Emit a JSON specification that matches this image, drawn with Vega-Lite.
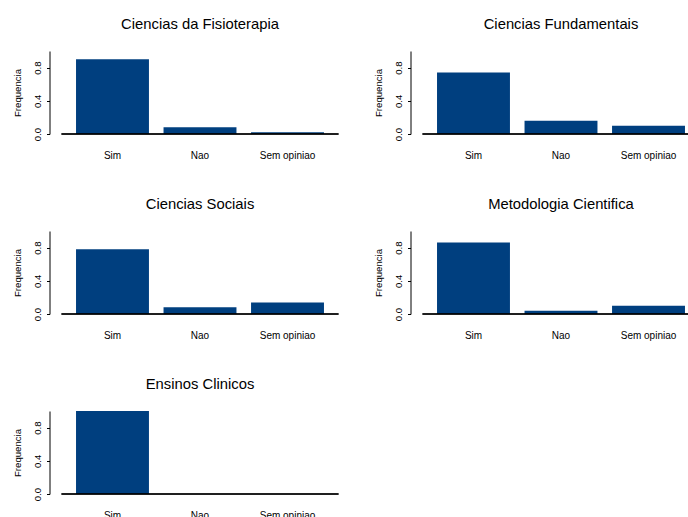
{
  "$schema": "https://vega.github.io/schema/vega-lite/v6.json",
  "padding": {"left": 12.5, "top": 17, "right": 0, "bottom": 0},
  "background": "white",
  "data": {"values": [
    {"painel": "Ciencias da Fisioterapia", "resposta": "Sim", "frequencia": 0.90},
    {"painel": "Ciencias da Fisioterapia", "resposta": "Nao", "frequencia": 0.08},
    {"painel": "Ciencias da Fisioterapia", "resposta": "Sem opiniao", "frequencia": 0.02},
    {"painel": "Ciencias Fundamentais", "resposta": "Sim", "frequencia": 0.74},
    {"painel": "Ciencias Fundamentais", "resposta": "Nao", "frequencia": 0.16},
    {"painel": "Ciencias Fundamentais", "resposta": "Sem opiniao", "frequencia": 0.10},
    {"painel": "Ciencias Sociais", "resposta": "Sim", "frequencia": 0.78},
    {"painel": "Ciencias Sociais", "resposta": "Nao", "frequencia": 0.08},
    {"painel": "Ciencias Sociais", "resposta": "Sem opiniao", "frequencia": 0.14},
    {"painel": "Metodologia Cientifica", "resposta": "Sim", "frequencia": 0.86},
    {"painel": "Metodologia Cientifica", "resposta": "Nao", "frequencia": 0.04},
    {"painel": "Metodologia Cientifica", "resposta": "Sem opiniao", "frequencia": 0.10},
    {"painel": "Ensinos Clinicos", "resposta": "Sim", "frequencia": 1.0},
    {"painel": "Ensinos Clinicos", "resposta": "Nao", "frequencia": 0.0},
    {"painel": "Ensinos Clinicos", "resposta": "Sem opiniao", "frequencia": 0.0}
  ]},
  "columns": 2,
  "spacing": {"column": 84, "row": 97},
  "bounds": "flush",
  "concat": [
    {"title": "Ciencias da Fisioterapia", "width": 277, "height": 83,
     "transform": [{"filter": "datum.painel == 'Ciencias da Fisioterapia'"}],
     "layer": [
       {"mark": {"type": "bar", "color": "#003F7F"},
        "encoding": {
          "x": {"field": "resposta", "type": "nominal", "sort": ["Sim", "Nao", "Sem opiniao"], "title": null, "scale": {"paddingInner": 0.1667, "paddingOuter": 0.166}},
          "y": {"field": "frequencia", "type": "quantitative", "title": "Frequencia", "scale": {"domain": [0, 1], "nice": false}, "axis": {"values": [0, 0.2, 0.4, 0.6, 0.8, 1.0]}}}},
       {"mark": {"type": "rule", "color": "#000000", "strokeWidth": 1}, "encoding": {"y": {"datum": 0}}}
     ]},
    {"title": "Ciencias Fundamentais", "width": 277, "height": 83,
     "transform": [{"filter": "datum.painel == 'Ciencias Fundamentais'"}],
     "layer": [
       {"mark": {"type": "bar", "color": "#003F7F"},
        "encoding": {
          "x": {"field": "resposta", "type": "nominal", "sort": ["Sim", "Nao", "Sem opiniao"], "title": null, "scale": {"paddingInner": 0.1667, "paddingOuter": 0.166}},
          "y": {"field": "frequencia", "type": "quantitative", "title": "Frequencia", "scale": {"domain": [0, 1], "nice": false}, "axis": {"values": [0, 0.2, 0.4, 0.6, 0.8, 1.0]}}}},
       {"mark": {"type": "rule", "color": "#000000", "strokeWidth": 1}, "encoding": {"y": {"datum": 0}}}
     ]},
    {"title": "Ciencias Sociais", "width": 277, "height": 83,
     "transform": [{"filter": "datum.painel == 'Ciencias Sociais'"}],
     "layer": [
       {"mark": {"type": "bar", "color": "#003F7F"},
        "encoding": {
          "x": {"field": "resposta", "type": "nominal", "sort": ["Sim", "Nao", "Sem opiniao"], "title": null, "scale": {"paddingInner": 0.1667, "paddingOuter": 0.166}},
          "y": {"field": "frequencia", "type": "quantitative", "title": "Frequencia", "scale": {"domain": [0, 1], "nice": false}, "axis": {"values": [0, 0.2, 0.4, 0.6, 0.8, 1.0]}}}},
       {"mark": {"type": "rule", "color": "#000000", "strokeWidth": 1}, "encoding": {"y": {"datum": 0}}}
     ]},
    {"title": "Metodologia Cientifica", "width": 277, "height": 83,
     "transform": [{"filter": "datum.painel == 'Metodologia Cientifica'"}],
     "layer": [
       {"mark": {"type": "bar", "color": "#003F7F"},
        "encoding": {
          "x": {"field": "resposta", "type": "nominal", "sort": ["Sim", "Nao", "Sem opiniao"], "title": null, "scale": {"paddingInner": 0.1667, "paddingOuter": 0.166}},
          "y": {"field": "frequencia", "type": "quantitative", "title": "Frequencia", "scale": {"domain": [0, 1], "nice": false}, "axis": {"values": [0, 0.2, 0.4, 0.6, 0.8, 1.0]}}}},
       {"mark": {"type": "rule", "color": "#000000", "strokeWidth": 1}, "encoding": {"y": {"datum": 0}}}
     ]},
    {"title": "Ensinos Clinicos", "width": 277, "height": 83,
     "transform": [{"filter": "datum.painel == 'Ensinos Clinicos'"}],
     "layer": [
       {"mark": {"type": "bar", "color": "#003F7F"},
        "encoding": {
          "x": {"field": "resposta", "type": "nominal", "sort": ["Sim", "Nao", "Sem opiniao"], "title": null, "scale": {"paddingInner": 0.1667, "paddingOuter": 0.166}},
          "y": {"field": "frequencia", "type": "quantitative", "title": "Frequencia", "scale": {"domain": [0, 1], "nice": false}, "axis": {"values": [0, 0.2, 0.4, 0.6, 0.8, 1.0]}}}},
       {"mark": {"type": "rule", "color": "#000000", "strokeWidth": 1}, "encoding": {"y": {"datum": 0}}}
     ]}
  ],
  "config": {
    "view": {"stroke": null},
    "font": "Liberation Sans",
    "title": {"fontSize": 14.8, "fontWeight": "normal", "color": "#000000", "anchor": "middle", "offset": 19, "font": "Liberation Sans"},
    "axisX": {"domain": false, "ticks": false, "tickSize": 0, "grid": false, "labelAngle": 0, "labelFontSize": 10, "labelColor": "#000000", "labelPadding": 24, "labelBaseline": "alphabetic", "labelFont": "Liberation Sans"},
    "axisY": {"offset": 12, "tickSize": 3, "tickColor": "#000000", "domainColor": "#000000", "grid": false,
      "labelExpr": "datum.value == 0 || abs(datum.value - 0.4) < 0.001 || abs(datum.value - 0.8) < 0.001 ? format(datum.value, '.1f') : ''",
      "labelAngle": -90, "labelAlign": "center", "labelBaseline": "bottom", "labelPadding": 4, "labelFontSize": 9.6, "labelColor": "#000000", "labelOverlap": false, "labelBound": false, "labelFlush": false, "labelFont": "Liberation Sans",
      "titleFontSize": 9.6, "titleFontWeight": "normal", "titleColor": "#000000", "titlePadding": 10, "titleFont": "Liberation Sans"}
  }
}
